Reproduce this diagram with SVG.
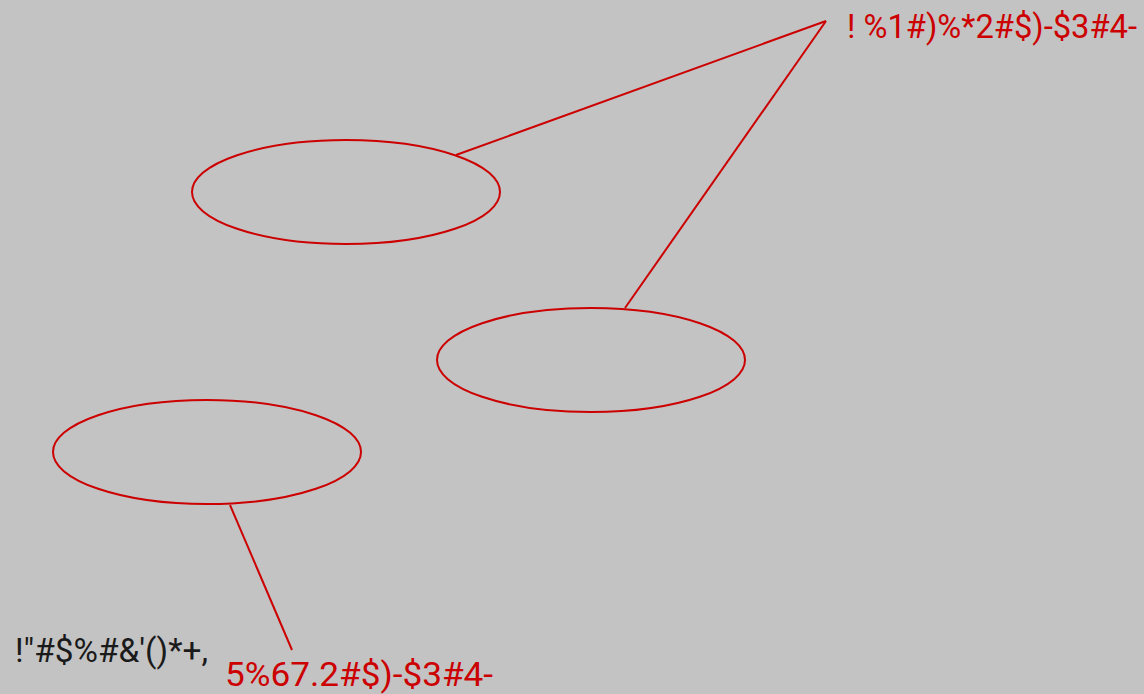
<svg xmlns="http://www.w3.org/2000/svg" width="1144" height="694" viewBox="0 0 1144 694">
<style>
.bg{fill:#c3c3c3}
.el{fill:none;stroke:#cc0000;stroke-width:2}
.ln{stroke:#cc0000;stroke-width:2;fill:none}
.t{font-family:Roboto,"Liberation Sans",sans-serif;font-size:34px}
.red{fill:#cc0000}
.blk{fill:#1a1a1a}
</style>
<rect class="bg" x="0" y="0" width="1144" height="694"/>
<g id="connectors">
<line class="ln" x1="456" y1="155" x2="826" y2="21"/>
<line class="ln" x1="625" y1="308" x2="826" y2="21"/>
<line class="ln" x1="230" y1="505" x2="292" y2="650"/>
</g>
<g id="node1"><ellipse class="el" cx="346" cy="192" rx="154" ry="52"/></g>
<g id="node2"><ellipse class="el" cx="591" cy="360" rx="154" ry="52"/></g>
<g id="node3"><ellipse class="el" cx="207" cy="452" rx="154" ry="52"/></g>
<g id="label1"><text class="t red" x="847" y="38" textLength="290" lengthAdjust="spacingAndGlyphs">! %1#)%*2#$)-$3#4-</text></g>
<g id="label2"><text class="t blk" x="15" y="662" textLength="193" lengthAdjust="spacingAndGlyphs">!"#$%#&amp;'()*+,</text></g>
<g id="label3"><text class="t red" x="225" y="686" textLength="268" lengthAdjust="spacingAndGlyphs">5%67.2#$)-$3#4-</text></g>
</svg>
